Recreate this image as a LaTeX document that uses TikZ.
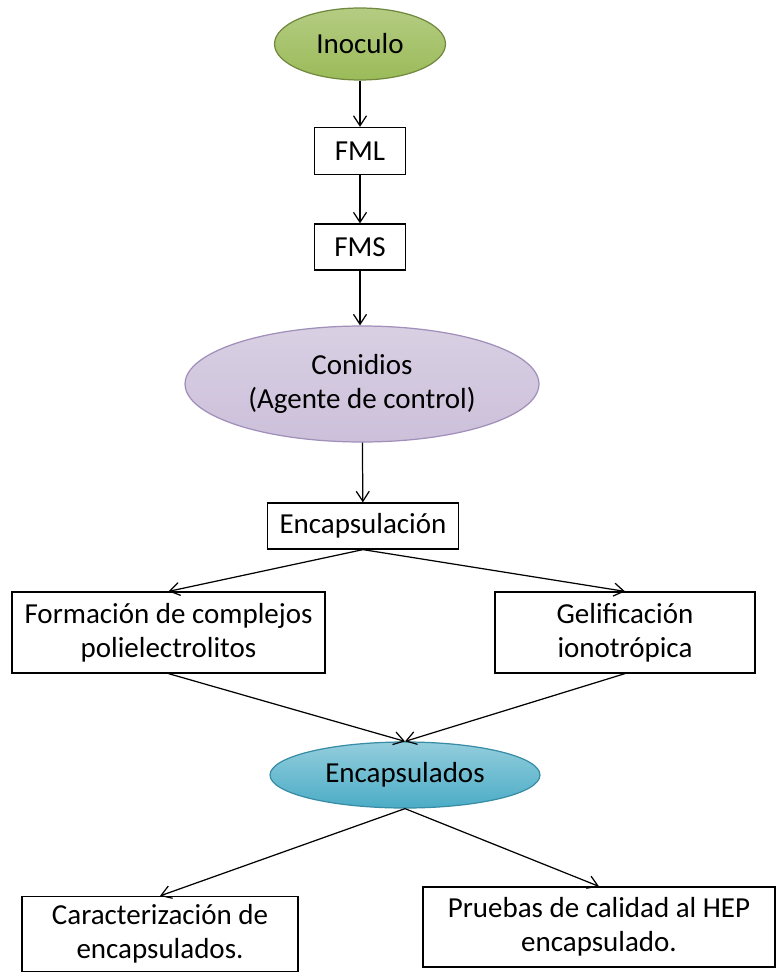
\documentclass[tikz,border=0pt]{standalone}
\usepackage{fontspec}
\setmainfont{Carlito}
\usetikzlibrary{shapes.geometric, arrows.meta}
\definecolor{inogreen}{RGB}{155,187,89}
\definecolor{inoline}{RGB}{113,137,63}
\definecolor{conlila}{RGB}{204,192,218}
\definecolor{conline}{RGB}{160,143,186}
\definecolor{enccyan}{RGB}{75,172,198}
\definecolor{encline}{RGB}{56,140,165}
\begin{document}
\begin{tikzpicture}[x=0.02cm, y=-0.02cm,
  font=\fontsize{16.5}{19.5}\selectfont,
  caja/.style={draw, line width=0.7pt, inner sep=0pt, align=center},
  elipse/.style={ellipse, draw, line width=0.7pt, inner sep=0pt, align=center},
  flecha/.style={-{Straight Barb[length=2mm, width=2.6mm]}, line width=0.7pt}]
\useasboundingbox (0,0) rectangle (777,973);
% nodos
\node[elipse, top color=inogreen!75!white, bottom color=inogreen, draw=inoline,
  minimum width=3.42cm, minimum height=1.44cm] (ino) at (360,44) {Inoculo};
\node[caja, minimum width=1.82cm, minimum height=0.94cm] (fml) at (360,151) {FML};
\node[caja, minimum width=1.82cm, minimum height=0.92cm] (fms) at (360,247) {FMS};
\node[elipse, top color=conlila!75!white, bottom color=conlila, draw=conline,
  minimum width=7.08cm, minimum height=2.32cm] (con) at (362,384) {Conidios\\(Agente de control)};
\node[caja, minimum width=3.82cm, minimum height=0.92cm] (enc) at (363,526) {Encapsulación};
\node[caja, minimum width=6.26cm, minimum height=1.62cm] (fcp) at (168.5,632.5) {Formación de complejos\\polielectrolitos};
\node[caja, minimum width=5.2cm, minimum height=1.62cm] (gel) at (625,632.5) {Gelificación\\ionotrópica};
\node[elipse, top color=enccyan!60!white, bottom color=enccyan, draw=encline,
  minimum width=5.4cm, minimum height=1.32cm] (encs) at (405,775) {Encapsulados};
\node[caja, minimum width=5.52cm, minimum height=1.5cm] (car) at (160,934) {Caracterización de\\encapsulados.};
\node[caja, minimum width=7.04cm, minimum height=1.6cm] (pru) at (599,927) {Pruebas de calidad al HEP\\encapsulado.};
% flechas
\draw[flecha] (ino) -- (fml);
\draw[flecha] (fml) -- (fms);
\draw[flecha] (fms.south) -- (fms.south |- con.north);
\draw[flecha] (con) -- (enc);
\foreach \dest in {fcp,gel}
  \draw[flecha] (enc.south) -- (\dest.north);
\foreach \orig in {fcp,gel}
  \draw[flecha] (\orig.south) -- (encs.north);
\foreach \dest in {car,pru}
  \draw[flecha] (encs.south) -- (\dest.north);
\end{tikzpicture}
\end{document}
